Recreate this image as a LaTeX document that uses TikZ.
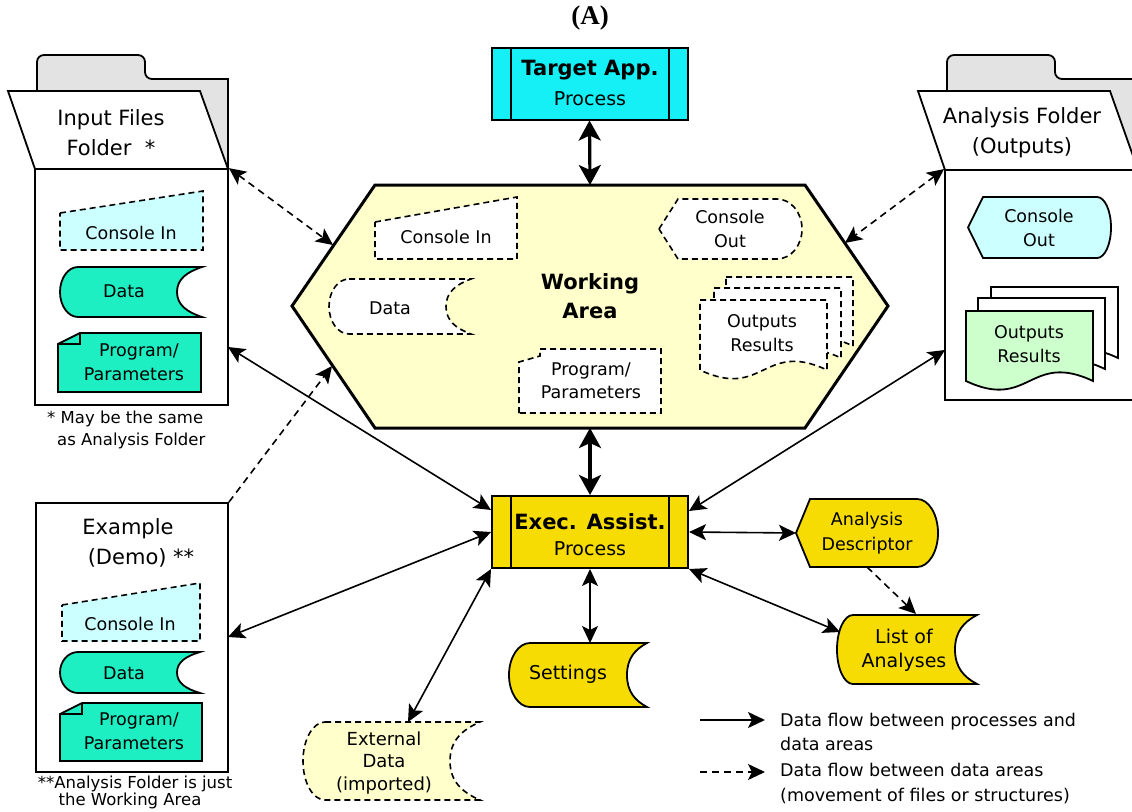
\documentclass[tikz,border=0pt]{standalone}
\usepackage{fontspec}
\setmainfont{DejaVu Sans}
\newfontfamily\titlefont{Liberation Serif}
\usetikzlibrary{arrows.meta}
\definecolor{tcyan}{HTML}{14F0F5}
\definecolor{goldy}{HTML}{F7DC04}
\definecolor{aqua}{HTML}{1EEFC3}
\definecolor{lcyan}{HTML}{CCFFFF}
\definecolor{lyel}{HTML}{FFFFCC}
\definecolor{lgreen}{HTML}{CCFFCC}
\definecolor{tabgray}{HTML}{E3E3E3}
% stored data: style, x1, y1, x2, y2, left bulge, right concave depth
\newcommand\storedshape[7]{%
 \path[#1] ({#2+#6},#3) -- (#4,#3)
  .. controls ({#4-0.6*#7},{#3+0.1*(#5-#3)}) and ({#4-#7},{(#3+#5)/2-0.26*(#5-#3)}) .. ({#4-#7},{(#3+#5)/2})
  .. controls ({#4-#7},{(#3+#5)/2+0.26*(#5-#3)}) and ({#4-0.6*#7},{#5-0.1*(#5-#3)}) .. (#4,#5)
  -- ({#2+#6},#5)
  .. controls ({#2+0.4477*#6},#5) and (#2,{(#3+#5)/2+0.2761*(#5-#3)}) .. (#2,{(#3+#5)/2})
  .. controls (#2,{(#3+#5)/2-0.2761*(#5-#3)}) and ({#2+0.4477*#6},#3) .. ({#2+#6},#3) -- cycle;}
% display: style, xleft, y1, x2, y2, point inset, arc width
\newcommand\dispshape[7]{%
 \path[#1] (#2,{(#3+#5)/2}) -- ({#2+#6},#3) -- ({#4-#7},#3)
  .. controls ({#4-0.4477*#7},#3) and (#4,{(#3+#5)/2-0.2761*(#5-#3)}) .. (#4,{(#3+#5)/2})
  .. controls (#4,{(#3+#5)/2+0.2761*(#5-#3)}) and ({#4-0.4477*#7},#5) .. ({#4-#7},#5)
  -- ({#2+#6},#5) -- cycle;}
% document: style, x1, y1, x2, ybottom, amplitude
\newcommand\docshape[6]{%
 \path[#1] (#2,#3) -- (#4,#3) -- (#4,#5)
  .. controls ({(#2+#4)/2},{#5-#6}) and ({(#2+#4)/2},{#5+#6}) .. (#2,#5) -- cycle;}
% card with dog-ear: style, x1, y1, x2, y2, fold w, fold h
\newcommand\cardshape[7]{%
 \path[#1] (#2,{#3+#7}) -- ({#2+#6},#3) -- (#4,#3) -- (#4,#5) -- (#2,#5) -- cycle;
 \path[#1,fill=none] (#2,{#3+#7}) -- ({#2+#6},{#3+#7}) -- ({#2+#6},#3);}
\tikzset{
  ol/.style={draw=black, line width=1.8pt},
  dsh/.style={draw=black, line width=1.6pt, dash pattern=on 6pt off 4pt},
  tipa/.tip={Stealth[length=17pt,width=16pt,inset=4pt]},
  tipb/.tip={Stealth[length=20pt,width=22pt,inset=5pt]},
  arr2/.style={line width=1.6pt, tipa-tipa},
  arr1/.style={line width=1.6pt, -tipa},
  arrd2/.style={line width=1.6pt, dash pattern=on 7pt off 5pt, tipa-tipa},
  arrd1/.style={line width=1.6pt, dash pattern=on 7pt off 5pt, -tipa},
  thickarr/.style={line width=3.2pt, tipb-tipb},
  procbox/.style={draw=black, line width=2pt, inner sep=0pt, minimum width=196pt, minimum height=72pt},
  plainbox/.style={ol, fill=white, inner sep=0pt},
  sm/.style={font=\fontsize{17.5}{24.5}\selectfont, align=center, inner sep=0pt},
  md/.style={font=\fontsize{19}{29}\selectfont, align=center, inner sep=0pt},
  hd/.style={font=\fontsize{21}{30}\selectfont, align=center, inner sep=0pt},
  bd/.style={font=\fontsize{21}{29}\selectfont\bfseries, align=center, inner sep=0pt},
  fn/.style={font=\fontsize{16.5}{22}\selectfont, inner sep=0pt}
}
\begin{document}
\begin{tikzpicture}[x=1pt,y=-1pt]
\useasboundingbox[fill=white] (0,0) rectangle (1132,811);

% title
\node[inner sep=0pt, font=\fontsize{27}{30}\selectfont\titlefont\bfseries] (ttl) at (590,18) {(A)};

% ---------- Input Files Folder ----------
\path[ol, fill=tabgray] (37,169) [rounded corners=7pt] -- (37,55) -- (145,55) -- (145,79) [sharp corners] -- (228,79) -- (228,169) -- cycle;
\path[ol, fill=white] (8,91) -- (200,91) -- (228,169) -- (35,169) -- cycle;
\node[plainbox, minimum width=193pt, minimum height=236pt] (inbox) at (131.5,287) {};
\path[dsh, fill=lcyan] (60,213) -- (203,191) -- (203,250) -- (60,250) -- cycle;
\storedshape{ol,fill=aqua}{60}{267}{202}{317}{18}{25}
\cardshape{ol,fill=aqua}{58}{333}{201}{392}{22}{11}
\node[hd] (inttl) at (111,133) {Input Files\\Folder\ \ *};
\node[sm] (inci) at (131,233) {Console In};
\node[sm] (indata) at (124,291) {Data};
\node[sm] (inprog) at (134,362) {\hspace*{10pt}Program/\\Parameters};
\node[fn, anchor=west] (fn1a) at (47,419) {* May be the same};
\node[fn, anchor=west] (fn1b) at (57,441) {as Analysis Folder};

% ---------- Analysis Folder ----------
\path[ol, fill=tabgray] (947,170) [rounded corners=7pt] -- (947,55) -- (1055,55) -- (1055,79) [sharp corners] -- (1145,79) -- (1145,170) -- cycle;
\path[ol, fill=white] (918,91) -- (1110,91) -- (1138,170) -- (945,170) -- cycle;
\node[plainbox, minimum width=200pt, minimum height=230pt] (anbox) at (1045,285) {};
\dispshape{ol,fill=lcyan}{968}{197}{1111}{258}{15}{14}
\docshape{ol,fill=white}{991}{287}{1118}{358}{30}
\docshape{ol,fill=white}{978}{298}{1105}{369}{30}
\docshape{ol,fill=lgreen}{966}{311}{1093}{381}{30}
\node[hd] (anttl) at (1022,133) {Analysis Folder\\(Outputs)};
\node[sm] (anco) at (1039,228) {Console\\Out};
\node[sm] (anout) at (1029,344) {Outputs\\Results};

% ---------- Example (Demo) ----------
\node[plainbox, minimum width=192pt, minimum height=269pt] (exbox) at (132,637.5) {};
\path[dsh, fill=lcyan] (62,605) -- (200,583) -- (200,641) -- (62,641) -- cycle;
\storedshape{ol,fill=aqua}{60}{652}{200}{693}{18}{23}
\cardshape{ol,fill=aqua}{60}{703}{202}{761}{22}{11}
\node[hd] (exttl1) at (128,529) {Example};
\node[hd] (exttl2) at (141,558) {(Demo) **};
\node[sm] (exci) at (130,624) {Console In};
\node[sm] (exdata) at (124,673) {Data};
\node[sm] (exprog) at (134,731) {\hspace*{10pt}Program/\\Parameters};
\node[fn] (fn2a) at (135,784) {**Analysis Folder is just};
\node[fn] (fn2b) at (130,801) {the Working Area};

% ---------- Working Area ----------
\path[ol, line width=3pt, fill=lyel] (375,185) -- (805,185) -- (888,306) -- (805,428) -- (375,428) -- (292,306) -- cycle;
\coordinate (waN) at (590,185);
\coordinate (waS) at (590,428);
\coordinate (waNW) at (333,245);
\coordinate (waSW) at (332,366);
\coordinate (waNE) at (845,243);
\path[dsh, fill=white] (375,222) -- (517,197) -- (517,259) -- (375,259) -- cycle;
\dispshape{dsh,fill=white}{659}{199}{802}{259}{19}{25}
\storedshape{dsh,fill=white}{329}{279}{471}{334}{20}{25}
\path[dsh, fill=white] (519,413) -- (519,362) -- (540,356) -- (540,349) -- (661,349) -- (661,413) -- cycle;
\docshape{dsh,fill=white}{726}{277}{853}{346}{30}
\docshape{dsh,fill=white}{714}{288}{841}{358}{30}
\docshape{dsh,fill=white}{700}{300}{827}{370}{30}
\node[bd] (wattl) at (590,296) {Working\\Area};
\node[sm] (waci) at (446,237) {Console In};
\node[sm] (waco) at (730,229) {Console\\Out};
\node[sm] (wadata) at (390,308) {Data};
\node[sm, font=\fontsize{17.5}{23}\selectfont] (waprog) at (591,381) {Program/\\Parameters};
\node[sm] (waout) at (762,333) {Outputs\\Results};

% ---------- Processes ----------
\node[procbox, fill=tcyan] (target) at (589.5,83.5) {};
\draw[line width=2pt] ([xshift=20pt]target.north west) -- ([xshift=20pt]target.south west);
\draw[line width=2pt] ([xshift=-20pt]target.north east) -- ([xshift=-20pt]target.south east);
\node[bd] (targetT) at (590,70) {Target App.};
\node[md] (targetP) at (590,99) {Process};

\node[procbox, fill=goldy] (exec) at (590,532) {};
\draw[line width=2pt] ([xshift=20pt]exec.north west) -- ([xshift=20pt]exec.south west);
\draw[line width=2pt] ([xshift=-20pt]exec.north east) -- ([xshift=-20pt]exec.south east);
\node[bd] (execT) at (590,522) {Exec. Assist.};
\node[md] (execP) at (590,549) {Process};

% ---------- Yellow data ----------
\dispshape{ol,fill=goldy}{796}{499}{938}{567}{14}{21}
\coordinate (adW) at (796,533);
\coordinate (adS) at (867,567);
\node[sm] (adtxt) at (867,533) {Analysis\\Descriptor};

\storedshape{ol,fill=goldy}{509}{643}{647}{707}{21}{20}
\coordinate (setN) at (590,643);
\node[sm, font=\fontsize{19}{24}\selectfont] (settxt) at (568,674) {Settings};

\storedshape{ol,fill=goldy}{837}{615}{977}{684}{16}{22}
\coordinate (loaW) at (840,632);
\coordinate (loaN) at (916,614);
\node[sm, font=\fontsize{19}{24}\selectfont] (loatxt) at (904,650) {List of\\Analyses};

\storedshape{dsh,fill=lyel}{303}{722}{480}{800}{22}{30}
\coordinate (extN) at (408,722);
\node[sm, font=\fontsize{18}{22.5}\selectfont] (exttxt) at (384,763) {External\\Data\\(imported)};

% ---------- connector end points ----------
\coordinate (inR) at (228,347);
\coordinate (exR) at (228,637);
\coordinate (anL) at (945,350);

% ---------- connectors ----------
\draw[thickarr] (target.south) -- (waN);
\draw[thickarr] (waS) -- (exec.north);
\draw[arrd2] (inbox.north east) -- (waNW);
\draw[arrd2] (anbox.north west) -- (waNE);
\draw[arrd1] (exbox.north east) -- (waSW);
\draw[arr2] (inR) -- ([yshift=-15pt]exec.north west);
\draw[arr2] (exR) -- (exec.west);
\draw[arr2] (extN) -- (exec.south west);
\draw[arr2] (exec.south) -- (setN);
\draw[arr2] (exec.east) -- (adW);
\draw[arr2] (exec.south east) -- (loaW);
\draw[arr2] ([yshift=-16pt]exec.north east) -- (anL);
\draw[arrd1] (adS) -- (loaN);

% ---------- legend ----------
\coordinate (lg1a) at (700,720);
\coordinate (lg1b) at (765,720);
\coordinate (lg2a) at (700,772);
\coordinate (lg2b) at (765,772);
\draw[arr1] (lg1a) -- (lg1b);
\draw[arrd1] (lg2a) -- (lg2b);
\node[sm, align=left, anchor=west] (lg1t) at (780,732) {Data flow between processes and\\data areas};
\node[sm, align=left, anchor=west] (lg2t) at (780,783.5) {Data flow between data areas\\(movement of files or structures)};
\end{tikzpicture}
\end{document}
